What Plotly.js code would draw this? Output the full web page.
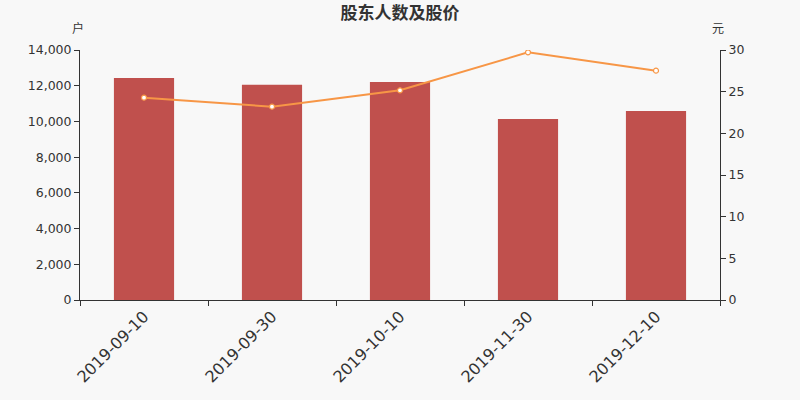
<!DOCTYPE html>
<html>
<head>
<meta charset="utf-8">
<script src="https://cdn.plot.ly/plotly-3.0.1.min.js"></script>
<style>
  html, body { margin: 0; padding: 0; background: #f8f8f8; }
  #chart { width: 800px; height: 400px; }
</style>
</head>
<body>
<div id="chart"></div>
<script>
// data
const dates = ['2019-09-10', '2019-09-30', '2019-10-10', '2019-11-30', '2019-12-10'];
const holders = [12430, 12050, 12210, 10130, 10580];
const prices = [24.28, 23.2, 25.16, 29.72, 27.52];

const COLORS = {
  bar: '#c0504d',
  line: '#f79646',
  axis: '#333333',
  text: '#333333',
  bg: '#f8f8f8',
};

const FONT = 'DejaVu Sans, "Noto Sans CJK SC", sans-serif';

const barTrace = {
  type: 'bar',
  name: '股东人数',
  x: dates,
  y: holders,
  marker: { color: COLORS.bar, line: { width: 0 } },
  hoverinfo: 'x+y',
};

const lineTrace = {
  type: 'scatter',
  mode: 'lines+markers',
  name: '股价',
  x: dates,
  y: prices,
  yaxis: 'y2',
  line: { color: COLORS.line, width: 2 },
  marker: { size: 5, color: '#ffffff', line: { color: COLORS.line, width: 1.2 } },
};

const axisBase = {
  showgrid: false,
  zeroline: false,
  showline: true,
  linecolor: COLORS.axis,
  linewidth: 1,
  ticks: 'outside',
  ticklen: 5,
  tickcolor: COLORS.axis,
  tickfont: { family: FONT, size: 12.5, color: COLORS.text },
};

const layout = {
  width: 800,
  height: 400,
  paper_bgcolor: COLORS.bg,
  plot_bgcolor: COLORS.bg,
  font: { family: FONT, color: COLORS.text },
  margin: { t: 50, r: 80, b: 100, l: 80 },
  showlegend: false,
  bargap: 0.53,
  title: {
    text: '<b>股东人数及股价</b>',
    x: 0.5,
    xanchor: 'center',
    y: 0.967,
    yanchor: 'middle',
    font: { family: '"Noto Sans CJK SC", sans-serif', size: 17, color: '#333333' },
  },
  xaxis: {
    ...axisBase,
    type: 'category',
    tickson: 'boundaries',
    tickangle: -45,
    tickfont: { family: FONT, size: 16, color: COLORS.text },
  },
  yaxis: {
    ...axisBase,
    range: [0, 14000],
    dtick: 2000,
    tickformat: ',d',
  },
  yaxis2: {
    ...axisBase,
    overlaying: 'y',
    side: 'right',
    range: [0, 30],
    dtick: 5,
  },
  annotations: [
    { text: '户', xref: 'paper', yref: 'paper', x: -0.003, y: 1.088, showarrow: false,
      xanchor: 'center', yanchor: 'middle', font: { family: '"Noto Sans CJK SC", sans-serif', size: 12, color: COLORS.text } },
    { text: '元', xref: 'paper', yref: 'paper', x: 0.997, y: 1.088, showarrow: false,
      xanchor: 'center', yanchor: 'middle', font: { family: '"Noto Sans CJK SC", sans-serif', size: 12, color: COLORS.text } },
  ],
};

Plotly.newPlot('chart', [barTrace, lineTrace], layout, { displayModeBar: false, staticPlot: true });
</script>
</body>
</html>
